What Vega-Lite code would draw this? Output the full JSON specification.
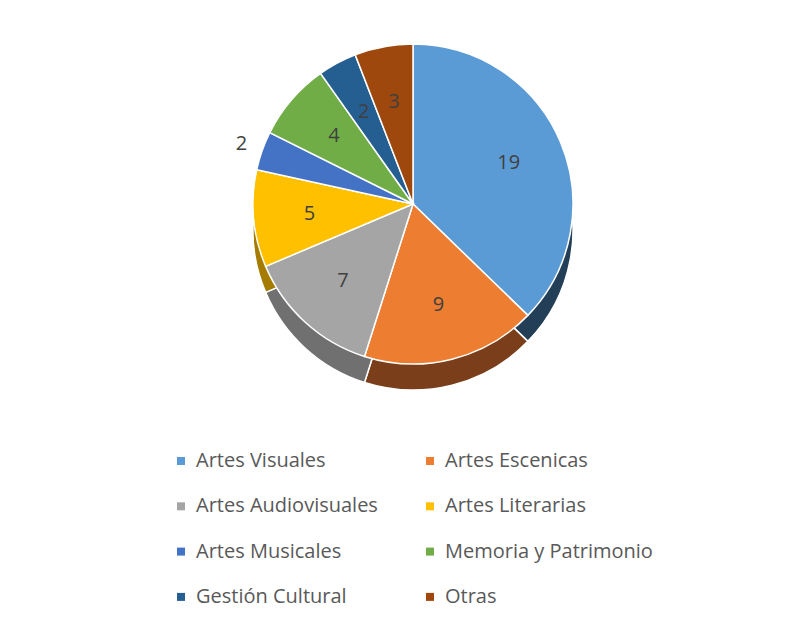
{
  "$schema": "https://vega.github.io/schema/vega-lite/v6.json",
  "autosize": "none",
  "width": 788,
  "height": 400,
  "padding": {"left": 19, "top": 4, "right": 0, "bottom": 223},
  "background": "white",
  "config": {"view": {"stroke": null}, "font": "Open Sans"},
  "data": {
    "values": [
      {"orden": 1, "categoria": "Artes Visuales", "valor": 19},
      {"orden": 2, "categoria": "Artes Escenicas", "valor": 9},
      {"orden": 3, "categoria": "Artes Audiovisuales", "valor": 7},
      {"orden": 4, "categoria": "Artes Literarias", "valor": 5},
      {"orden": 5, "categoria": "Artes Musicales", "valor": 2},
      {"orden": 6, "categoria": "Memoria y Patrimonio", "valor": 4},
      {"orden": 7, "categoria": "Gestión Cultural", "valor": 2},
      {"orden": 8, "categoria": "Otras", "valor": 3}
    ]
  },
  "layer": [
    {
      "mark": {"type": "arc", "radius": 160, "yOffset": 26, "stroke": "white", "strokeWidth": 1.5},
      "encoding": {
        "theta": {"field": "valor", "type": "quantitative", "stack": true},
        "order": {"field": "orden", "type": "quantitative"},
        "color": {
          "field": "categoria",
          "type": "nominal",
          "legend": null,
          "scale": {
            "domain": ["Artes Visuales", "Artes Escenicas", "Artes Audiovisuales", "Artes Literarias", "Artes Musicales", "Memoria y Patrimonio", "Gestión Cultural", "Otras"],
            "range": ["#233f58", "#7a3f1a", "#707070", "#a67c00", "#2a4a80", "#4a7330", "#19304f", "#632d09"]
          }
        }
      }
    },
    {
      "mark": {"type": "arc", "radius": 160, "stroke": "white", "strokeWidth": 1.5},
      "encoding": {
        "theta": {"field": "valor", "type": "quantitative", "stack": true},
        "order": {"field": "orden", "type": "quantitative"},
        "color": {
          "field": "categoria",
          "type": "nominal",
          "title": null,
          "scale": {
            "domain": ["Artes Visuales", "Artes Escenicas", "Artes Audiovisuales", "Artes Literarias", "Artes Musicales", "Memoria y Patrimonio", "Gestión Cultural", "Otras"],
            "range": ["#5b9bd5", "#ed7d31", "#a5a5a5", "#ffc000", "#4472c4", "#70ad47", "#255e91", "#9e480e"]
          },
          "legend": {
            "orient": "none",
            "direction": "horizontal",
            "legendX": 152,
            "legendY": 447,
            "columns": 2,
            "columnPadding": 42,
            "rowPadding": 25.3,
            "symbolType": "square",
            "symbolSize": 64,
            "symbolStrokeWidth": 0,
            "labelOffset": 5,
            "labelFontSize": 20,
            "labelColor": "#595959",
            "labelFont": "Open Sans",
            "labelLimit": 400,
            "padding": 0
          }
        }
      }
    },
    {
      "mark": {"type": "text", "radius": 104, "fontSize": 20, "color": "#404040", "font": "Open Sans"},
      "encoding": {
        "theta": {"field": "valor", "type": "quantitative", "stack": true},
        "order": {"field": "orden", "type": "quantitative"},
        "text": {"field": "valor", "type": "quantitative"},
        "opacity": {"condition": {"test": "datum.categoria === 'Artes Musicales'", "value": 0}, "value": 1}
      }
    },
    {
      "mark": {"type": "text", "radius": 182, "fontSize": 20, "color": "#404040", "font": "Open Sans"},
      "encoding": {
        "theta": {"field": "valor", "type": "quantitative", "stack": true},
        "order": {"field": "orden", "type": "quantitative"},
        "text": {"field": "valor", "type": "quantitative"},
        "opacity": {"condition": {"test": "datum.categoria === 'Artes Musicales'", "value": 1}, "value": 0}
      }
    }
  ],
  "resolve": {"scale": {"color": "independent"}}
}
